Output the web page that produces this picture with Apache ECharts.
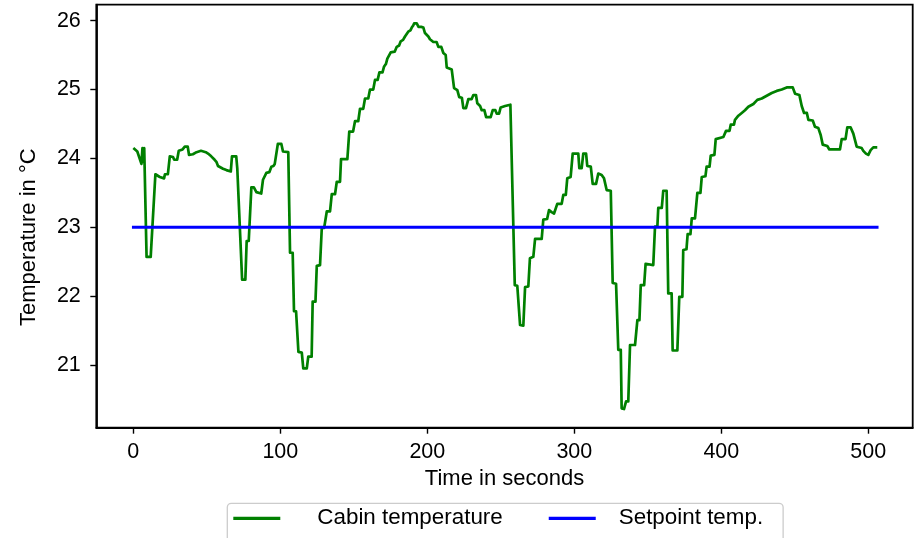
<!DOCTYPE html>
<html>
<head>
<meta charset="utf-8">
<script src="https://cdn.jsdelivr.net/npm/echarts@6/dist/echarts.min.js"></script>
<style>
  html, body { margin: 0; padding: 0; background: #fff; }
  #chart { width: 914px; height: 538px; }
</style>
</head>
<body>
<div id="chart"></div>
<script>
// Cabin temperature trace (time in s, temperature in °C)
const cabinTime = [
  0, 2.7, 5.5, 6.2, 6.7, 7.4, 8.2, 9.0, 11.8, 15.0, 18.0, 20.9, 21.5, 23.5, 24.8, 27.0, 27.8, 29.8,
  30.9, 33.5, 35.0, 37.0, 37.9, 40.5, 43.0, 46.0, 49.3, 50.8, 53.0, 55.3, 56.5, 57.6, 61.0, 63.3,
  66.3, 67.1, 70.0, 70.7, 71.5, 74.0, 76.2, 77.1, 78.5, 80.3, 82.0, 83.7, 87.0, 88.2, 89.5, 90.5,
  92.5, 93.9, 95.3, 96.2, 97.5, 98.3, 100.7, 101.8, 105.4,
  106.6, 108.4, 109.3, 110.7, 112.3, 114.6, 115.6, 118.0, 119.0, 121.3, 122.0, 123.9, 124.8, 127.0,
  128.2, 129.8, 131.6, 133.8, 135.0, 137.2, 138.4, 140.6, 141.3, 145.6, 146.9, 149.5, 150.8, 153.0,
  154.2, 156.4, 157.6, 159.8, 161.0, 163.2, 164.4, 166.2, 167.4, 169.5, 170.5, 171.8, 172.8, 174.0,
  175.1, 177.8, 179.2, 180.8, 181.9, 183.5, 184.8, 186.0, 187.0, 188.5, 189.4, 190.4, 191.0, 192.8,
  194.0, 195.8, 197.3, 198.4, 200.7, 201.8, 204.1, 206.3, 207.5, 209.5, 210.9, 212.5, 213.2, 216.6,
  218.2, 220.4, 221.7, 223.5, 224.5, 226.3, 227.9, 230.1, 231.3, 233.1, 234.0, 235.9, 237.0, 238.8,
  240.0, 243.1, 244.5, 246.3, 247.2, 248.8, 249.9, 252.9, 256.5,
  259.5, 261.2, 263.1, 265.3, 266.5, 268.7, 269.8, 272.1, 273.3, 277.8, 278.9, 281.5, 282.8, 284.5,
  286.2, 287.2, 288.4, 291.4, 292.5, 294.2, 295.2, 297.5, 298.9, 302.7, 303.4, 305.0, 306.1, 308.0,
  308.8, 311.2, 312.5, 314.8, 316.3, 318.6, 320.2, 322.0, 324.8, 326.1, 328.4, 329.9, 331.6, 332.2,
  333.8, 335.2, 336.7, 337.9, 341.3, 342.9, 344.3, 345.2, 347.5, 348.5, 353.7, 354.9, 356.5, 357.1,
  359.5, 360.5, 362.8, 363.9, 366.2, 366.9, 370.1, 371.4, 373.5, 374.1, 376.3, 377.1, 379.0, 379.9,
  382.1, 383.7, 385.8, 386.7, 389.2, 390.0, 392.0, 392.8, 395.3, 396.2, 401.4, 403.2, 405.6, 406.4,
  408.6, 409.3, 411.6, 413.9, 416.1, 418.4, 421.8, 424.5, 427.5, 430.9, 434.3, 437.7, 441.1, 444.5,
  448.6, 450.2, 453.1, 454.7, 456.3, 458.2, 459.2, 462.2, 463.7, 466.0, 467.6, 469.0, 472.1, 473.5,
  480.7, 481.9, 484.5, 485.7, 488.0, 489.8, 492.1, 495.5, 496.6, 498.4, 500.0, 501.6, 503.4, 506.1
];
const cabinTemp = [
  24.15, 24.10, 23.92, 24.15, 23.95, 24.15, 24.15, 22.57, 22.57, 23.77, 23.73, 23.71, 23.77, 23.77, 24.03, 24.02, 23.98, 23.98,
  24.11, 24.13, 24.17, 24.17, 24.05, 24.06, 24.09, 24.11, 24.09, 24.07, 24.03, 23.98, 23.95, 23.89, 23.85, 23.83,
  23.81, 24.03, 24.03, 23.86, 23.85, 22.24, 22.24, 22.80, 22.80, 23.58, 23.58, 23.51, 23.49, 23.69, 23.70, 23.79,
  23.80, 23.88, 23.89, 23.92, 23.92, 24.21, 24.21, 24.10, 24.09,
  22.63, 22.63, 21.78, 21.78, 21.19, 21.18, 20.95, 20.95, 21.12, 21.12, 21.92, 21.92, 22.44, 22.45,
  22.99, 22.99, 23.23, 23.23, 23.48, 23.48, 23.66, 23.66, 23.99, 23.99, 24.39, 24.39, 24.54, 24.54,
  24.72, 24.72, 24.87, 24.87, 25.00, 25.00, 25.14, 25.14, 25.25, 25.25, 25.33, 25.37, 25.45, 25.47,
  25.54, 25.55, 25.62, 25.64, 25.70, 25.72, 25.77, 25.79, 25.84, 25.86, 25.90, 25.93, 25.96, 25.96,
  25.91, 25.91, 25.90, 25.82, 25.77, 25.73, 25.69, 25.69, 25.62, 25.62, 25.53, 25.50, 25.32, 25.29,
  25.02, 24.99, 24.89, 24.88, 24.73, 24.73, 24.86, 24.86, 24.92, 24.92, 24.80, 24.76, 24.70, 24.70,
  24.60, 24.60, 24.70, 24.70, 24.65, 24.65, 24.74, 24.76, 24.78,
  22.16, 22.15, 21.58, 21.57, 22.13, 22.14, 22.55, 22.57, 22.83, 22.83, 23.11, 23.12, 23.25, 23.22,
  23.20, 23.20, 23.34, 23.34, 23.47, 23.47, 23.71, 23.73, 24.07, 24.07, 23.86, 23.86, 24.07, 24.07,
  23.89, 23.88, 23.63, 23.63, 23.78, 23.76, 23.71, 23.54, 23.53, 22.19, 22.18, 21.22, 21.22, 20.37,
  20.36, 20.47, 20.47, 21.29, 21.29, 21.65, 21.65, 22.16, 22.16, 22.47, 22.45, 23.01, 23.01, 23.28,
  23.28, 23.53, 23.53, 22.04, 22.04, 21.21, 21.21, 21.99, 21.99, 22.67, 22.68, 22.90, 22.90, 23.13,
  23.13, 23.50, 23.50, 23.73, 23.74, 23.88, 23.88, 24.04, 24.05, 24.28, 24.31, 24.40, 24.40, 24.49,
  24.49, 24.56, 24.62, 24.66, 24.70, 24.75, 24.79, 24.85, 24.87, 24.91, 24.95, 24.98, 25.00, 25.03,
  25.03, 24.94, 24.92, 24.76, 24.66, 24.66, 24.56, 24.55, 24.46, 24.44, 24.34, 24.20, 24.18, 24.13,
  24.13, 24.28, 24.28, 24.45, 24.45, 24.36, 24.17, 24.15, 24.11, 24.07, 24.05, 24.12, 24.16, 24.16
];

// Setpoint: constant 23 °C over the whole run
const setpointTime = [0, 506];
const setpointTemp = [23, 23];

// Axis tick values
const timeTicks = [0, 100, 200, 300, 400, 500];
const tempTicks = [21, 22, 23, 24, 25, 26];

const seriesNames = ['Cabin temperature', 'Setpoint temp.'];

const zip = (xs, ys) => xs.map((x, i) => [x, ys[i]]);

const FONT = 'Liberation Sans, Arial, Helvetica, sans-serif';

const chart = echarts.init(document.getElementById('chart'), null, { renderer: 'canvas' });

chart.setOption({
  animation: false,
  backgroundColor: '#ffffff',
  textStyle: { fontFamily: FONT, color: '#000' },
  grid: {
    left: 96.3,
    top: 4.7,
    right: 1.3,
    bottom: 110.3,
    show: true,
    borderColor: '#000',
    borderWidth: 1.8,
    backgroundColor: 'transparent',
    outerBoundsMode: 'none'
  },
  xAxis: {
    type: 'value',
    min: -25.2,
    max: 530.2,
    name: 'Time in seconds',
    nameLocation: 'middle',
    nameGap: 38,
    nameTextStyle: { fontFamily: FONT, fontSize: 22, color: '#000' },
    splitLine: { show: false },
    axisLine: { show: true, onZero: false, lineStyle: { color: '#000', width: 1.8 } },
    axisTick: { show: true, length: 6, lineStyle: { color: '#000', width: 1.4 }, customValues: timeTicks },
    axisLabel: { fontFamily: FONT, fontSize: 21.5, color: '#000', margin: 13, customValues: timeTicks }
  },
  yAxis: {
    type: 'value',
    min: 20.089,
    max: 26.232,
    name: 'Temperature in °C',
    nameLocation: 'middle',
    nameGap: 56,
    nameRotate: 90,
    nameTextStyle: { fontFamily: FONT, fontSize: 22, color: '#000', padding: [0, 42, 0, 0] },
    splitLine: { show: false },
    axisLine: { show: true, onZero: false, lineStyle: { color: '#000', width: 1.8 } },
    axisTick: { show: true, length: 6, lineStyle: { color: '#000', width: 1.4 }, customValues: tempTicks },
    axisLabel: { fontFamily: FONT, fontSize: 21.5, color: '#000', margin: 15.5, customValues: tempTicks }
  },
  legend: {
    left: 227.3,
    top: 503.3,
    orient: 'horizontal',
    selectedMode: false,
    icon: 'rect',
    itemWidth: 47,
    itemHeight: 3.3,
    itemGap: 46,
    padding: [4, 20, 30, 6],
    borderColor: '#cccccc',
    borderWidth: 1.3,
    borderRadius: 4,
    backgroundColor: '#ffffff',
    textStyle: { fontFamily: FONT, fontSize: 22.4, color: '#000' },
    data: [
      { name: seriesNames[0], textStyle: { padding: [0, 0, 0, 32] } },
      { name: seriesNames[1], textStyle: { padding: [0, 0, 0, 18] } }
    ]
  },
  series: [
    {
      name: seriesNames[0],
      type: 'line',
      data: zip(cabinTime, cabinTemp),
      showSymbol: false,
      symbol: 'none',
      color: '#008000',
      lineStyle: { color: '#008000', width: 2.7, join: 'round' },
      z: 2
    },
    {
      name: seriesNames[1],
      type: 'line',
      data: zip(setpointTime, setpointTemp),
      showSymbol: false,
      symbol: 'none',
      color: '#0000ff',
      lineStyle: { color: '#0000ff', width: 2.8, cap: 'square' },
      z: 3
    }
  ]
});
</script>
</body>
</html>
